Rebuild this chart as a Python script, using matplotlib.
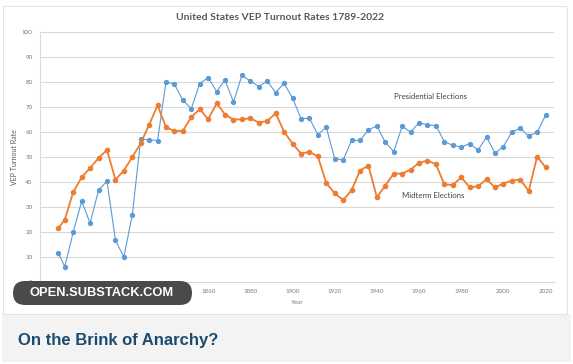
import matplotlib
matplotlib.use("Agg")
import matplotlib.pyplot as plt
from matplotlib.patches import Rectangle, FancyBboxPatch

# ---- data ----
years = [1789, 1792, 1796, 1800, 1804, 1808, 1812, 1816, 1820, 1824, 1828, 1832, 1836,
         1840, 1844, 1848, 1852, 1856, 1860, 1864, 1868, 1872, 1876, 1880, 1884, 1888,
         1892, 1896, 1900, 1904, 1908, 1912, 1916, 1920, 1924, 1928, 1932, 1936, 1940,
         1944, 1948, 1952, 1956, 1960, 1964, 1968, 1972, 1976, 1980, 1984, 1988, 1992,
         1996, 2000, 2004, 2008, 2012, 2016, 2020]
presidential = [11.6, 6.3, 20.1, 32.4, 23.7, 36.8, 40.5, 16.9, 10.1, 26.9, 57.3, 57.0, 56.7,
                80.2, 79.2, 72.8, 69.5, 79.5, 81.9, 76.3, 80.9, 72.1, 82.8, 80.5, 78.3, 80.5,
                75.9, 79.6, 73.7, 65.5, 65.6, 59.1, 62.0, 49.5, 48.9, 56.8, 56.8, 61.0, 62.5,
                56.0, 52.3, 62.4, 60.1, 63.9, 62.9, 62.7, 56.3, 54.8, 54.1, 55.5, 52.9, 58.1,
                51.7, 54.3, 60.1, 61.6, 58.5, 60.0, 66.8]
midterm = [21.7, 25.1, 36.1, 42.0, 45.7, 49.7, 52.9, 41.1, 44.7, 50.1, 55.6, 63.0, 70.8,
           62.0, 60.5, 60.6, 66.1, 69.3, 65.2, 71.6, 67.1, 65.1, 65.2, 65.6, 63.9, 64.5,
           67.6, 60.2, 55.5, 51.5, 52.1, 50.4, 39.7, 35.6, 32.9, 36.8, 44.7, 46.7, 34.0,
           38.7, 43.5, 43.5, 45.1, 47.8, 48.7, 47.2, 39.2, 38.9, 42.0, 38.0, 38.4, 41.2,
           38.0, 39.5, 40.7, 41.1, 36.5, 50.3, 46.0]
x_ticks = [1860, 1880, 1900, 1920, 1940, 1960, 1980, 2000, 2020]
y_ticks = [0, 10, 20, 30, 40, 50, 60, 70, 80, 90, 100]

W, H = 573, 364
fig = plt.figure(figsize=(W / 100, H / 100), dpi=100)
fig.patch.set_facecolor("white")

def fx(px):
    return px / W

def fy(py):
    return 1 - py / H

# background / decoration layer in pixel coordinates
bg = fig.add_axes([0, 0, 1, 1], zorder=-5)
bg.set_xlim(0, W)
bg.set_ylim(H, 0)
bg.axis("off")
bg.add_patch(Rectangle((2, 314), 569, 48, facecolor="#f3f3f3", edgecolor="none"))
bg.add_patch(Rectangle((3, 6), 564, 308, facecolor="white", edgecolor="#e4e4e4",
                       linewidth=0.8))

ax = fig.add_axes([fx(39.5), fy(282.3), (554 - 39.5) / W, (282.3 - 32.3) / H], zorder=1)
ax.set_facecolor("none")
ax.set_xlim(1780, 2024)
ax.set_ylim(0, 100)
ax.set_yticks(y_ticks)
ax.set_xticks(x_ticks)
ax.grid(axis="y", color="#d9d9d9", linewidth=0.8)
ax.set_axisbelow(True)
for s in ["top", "right"]:
    ax.spines[s].set_visible(False)
ax.spines["left"].set_color("#d9d9d9")
ax.spines["bottom"].set_color("#d9d9d9")
ax.spines["left"].set_linewidth(0.8)
ax.spines["bottom"].set_linewidth(0.8)
ax.tick_params(length=0, labelsize=4.5, labelcolor="#7a7a7a", pad=5)
for lab in ax.get_xticklabels() + ax.get_yticklabels():
    lab.set_family("Lato")

ax.plot(years, presidential, color="#5b9bd5", linewidth=0.8, marker="o",
        markersize=2.8, zorder=3)
ax.plot(years, midterm, color="#ed7d31", linewidth=1.3, marker="o",
        markersize=3.0, zorder=3)

ax.set_xlabel("Year", fontsize=4.5, color="#7a7a7a", family="Lato", labelpad=4)
ax.set_ylabel("VEP Turnout Rate", fontsize=5, color="#595959", family="Lato", labelpad=3)

ax.text(0.76, 0.745, "Presidential Elections", transform=ax.transAxes, fontsize=5.6,
        color="#404040", family="Lato", ha="center", va="center")
ax.text(0.766, 0.349, "Midterm Elections", transform=ax.transAxes, fontsize=5.6,
        color="#404040", family="Lato", ha="center", va="center")

fig.text(fx(280), fy(17), "United States VEP Turnout Rates 1789-2022", fontsize=7.5,
         color="#595959", family="Lato", fontweight="bold", ha="center", va="center")

# overlay layer (badge + caption)
ov = fig.add_axes([0, 0, 1, 1], zorder=10)
ov.set_xlim(0, W)
ov.set_ylim(H, 0)
ov.axis("off")
ov.patch.set_alpha(0)
ov.add_patch(FancyBboxPatch((13, 281), 179, 24,
                            boxstyle="round,pad=0,rounding_size=12",
                            facecolor="#4a4a4a", edgecolor="none"))
ov.text(102, 293.5, "OPEN.SUBSTACK.COM", fontsize=9.3, color="white",
        family="Liberation Sans", fontweight="bold", ha="center", va="center")

ov.text(18, 341, "On the Brink of Anarchy?", fontsize=12, color="#1b4b6e",
        family="Liberation Sans", fontweight="bold", ha="left", va="center")

fig.savefig("out.png", dpi=100)
